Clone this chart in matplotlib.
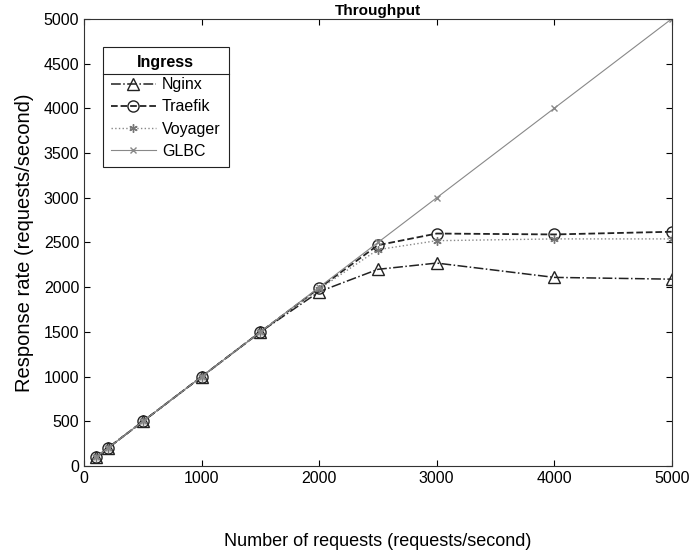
import numpy as np
import matplotlib
matplotlib.use("Agg")
import matplotlib.pyplot as plt
from matplotlib.lines import Line2D

# request rates sent (requests/second)
requests = [100, 200, 500, 1000, 1500, 2000, 2500, 3000, 4000, 5000]

# measured response rates
nginx = [100, 200, 500, 1000, 1500, 1950, 2200, 2270, 2110, 2090]
traefik = [100, 200, 500, 1000, 1500, 1990, 2470, 2600, 2590, 2620]
voyager = [100, 200, 500, 1000, 1500, 1980, 2420, 2520, 2540, 2540]
glbc = [100, 200, 500, 1000, 1500, 2000, 2500, 3000, 4000, 5000]

plt.rcParams['font.family'] = ['Liberation Sans', 'DejaVu Sans']

fig = plt.figure(figsize=(6.89, 5.53), dpi=100)
ax = fig.add_axes([0.122, 0.157, 0.853, 0.809])

ax.plot(requests, nginx, color='#222222', linestyle='-.', linewidth=1.1,
        marker='^', markersize=8, markerfacecolor='none', markeredgecolor='#222222',
        label='Nginx')
ax.plot(requests, traefik, color='#222222', linestyle='--', linewidth=1.3,
        marker='o', markersize=8, markerfacecolor='none', markeredgecolor='#222222',
        label='Traefik')
ax.plot(requests, voyager, color='#888888', linestyle=':', linewidth=1.0,
        marker=(6, 2, 0), markersize=6, markeredgecolor='#777777',
        label='Voyager')
ax.plot(requests, glbc, color='#888888', linestyle='-', linewidth=0.8,
        marker='x', markersize=5, markeredgecolor='#888888',
        label='GLBC')

ax.set_xlim(0, 5000)
ax.set_ylim(0, 5000)
ax.set_xticks(np.arange(0, 5001, 1000))
ax.set_yticks(np.arange(0, 5001, 500))
ax.tick_params(direction='in', top=True, right=True, labelsize=11.5, length=4)
for s in ax.spines.values():
    s.set_color('#333333')
    s.set_linewidth(0.8)

ax.set_title('Throughput', fontsize=11, fontweight='bold', pad=3)
ax.set_xlabel('Number of requests (requests/second)', fontsize=13, labelpad=34)
ax.set_ylabel('Response rate (requests/second)', fontsize=14.5, labelpad=7)

leg = ax.legend(title='Ingress', loc='upper left', bbox_to_anchor=(0.032, 0.937),
                borderaxespad=0,
                fontsize=11.5, title_fontproperties={'weight': 'bold', 'size': 11.5},
                fancybox=False, edgecolor='#222222', framealpha=1,
                handlelength=2.8, handletextpad=0.4, borderpad=0.5,
                labelspacing=0.45)
leg.get_frame().set_linewidth(0.8)

# separator line under the legend title
fig.canvas.draw()
fb = leg.get_frame().get_window_extent()
tb = leg.get_title().get_window_extent()
ysep = tb.y0 - 4
inv = fig.transFigure.inverted()
x0, y0 = inv.transform((fb.x0, ysep))
x1, _ = inv.transform((fb.x1, ysep))
fig.add_artist(Line2D([x0, x1], [y0, y0], color='#222222', linewidth=0.8, zorder=10))

fig.savefig('out.png', dpi=100)
